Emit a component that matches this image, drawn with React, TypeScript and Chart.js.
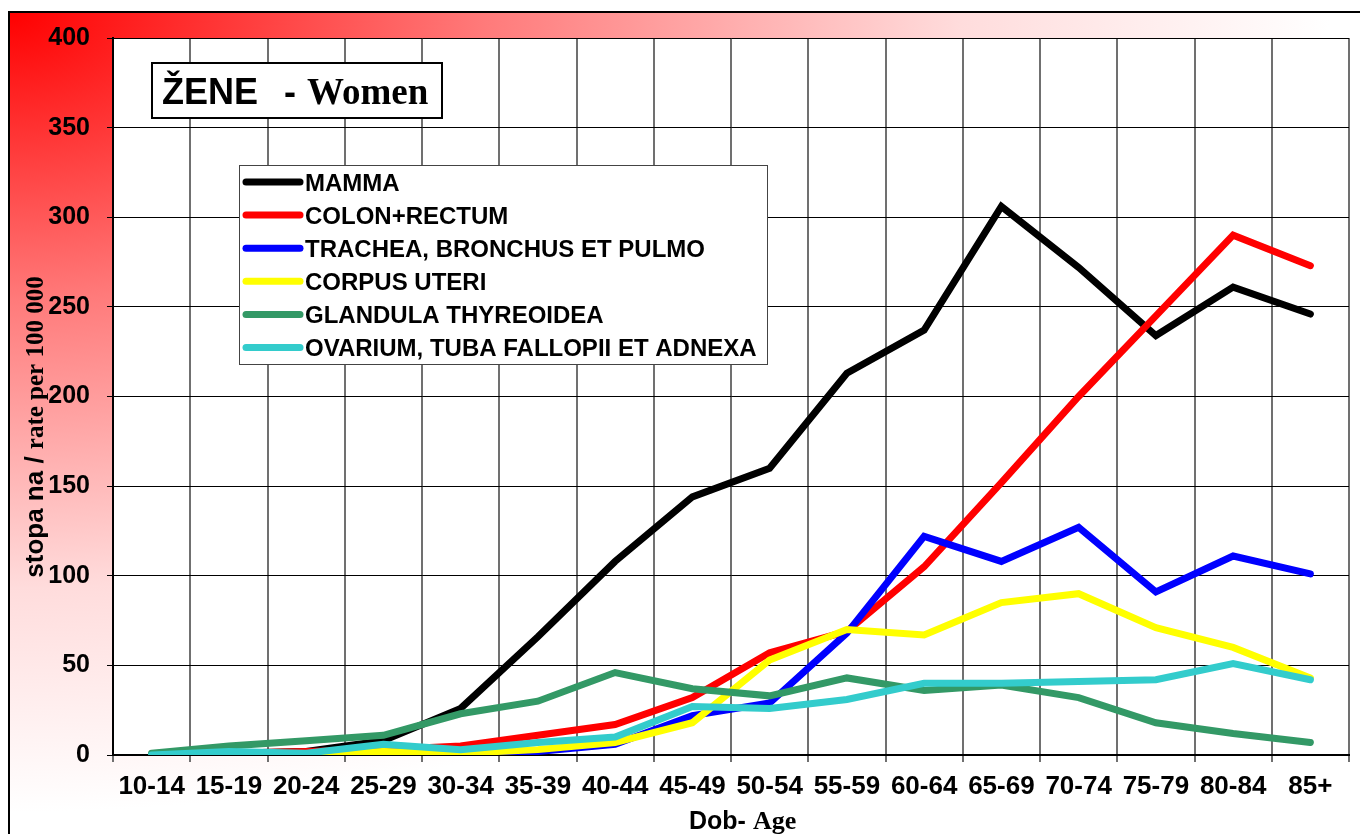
import React, { useEffect, useRef } from 'react';
import { Chart, registerables } from 'chart.js';

Chart.register(...registerables);

const ageGroups = ['10-14', '15-19', '20-24', '25-29', '30-34', '35-39', '40-44', '45-49', '50-54', '55-59', '60-64', '65-69', '70-74', '75-79', '80-84', '85+'];

const mamma = [0, 1, 2, 8, 26, 66, 108, 144, 160, 213, 237, 306, 272, 234, 261, 246];
const colonRectum = [0, 1, 2, 3, 5, 11, 17, 32, 57, 69, 105, 152, 200, 245, 290, 273];
const trachea = [0, 0, 0, 0.5, 1, 2, 6, 22, 29, 68, 122, 108, 127, 91, 111, 101];
const corpusUteri = [0, 0, 0.5, 2, 1, 3, 7, 18, 53, 70, 67, 85, 90, 71, 60, 43];
const thyreoidea = [1, 5, 8, 11, 23, 30, 46, 37, 33, 43, 36, 39, 32, 18, 12, 7];
const ovarium = [0, 2, 1, 6, 3, 7, 10, 27, 26, 31, 40, 40, 41, 42, 51, 42];

const seriesLabels = ['MAMMA', 'COLON+RECTUM', 'TRACHEA, BRONCHUS ET PULMO', 'CORPUS UTERI', 'GLANDULA THYREOIDEA', 'OVARIUM, TUBA FALLOPII ET ADNEXA'];
const seriesColors = ['#000000', '#ff0000', '#0000ff', '#ffff00', '#339966', '#33cccc'];
const seriesData = [mamma, colonRectum, trachea, corpusUteri, thyreoidea, ovarium];

const yTicks = [0, 50, 100, 150, 200, 250, 300, 350, 400];

const SANS = "'Liberation Sans', Arial, sans-serif";
const SERIF = "'Liberation Serif', 'Times New Roman', serif";

const decor = {
  id: 'decor',
  beforeDraw(chart: any) {
    const ctx = chart.ctx as CanvasRenderingContext2D;
    const width = chart.width;
    const height = chart.height;
    ctx.save();
    ctx.fillStyle = '#ffffff';
    ctx.fillRect(0, 0, width, height);
    // gradient panel
    ctx.save();
    ctx.beginPath();
    ctx.rect(9, 12, width, height);
    ctx.clip();
    ctx.translate(9, 12);
    const rx = 1320;
    const ry = 800;
    ctx.scale(1, ry / rx);
    const g = ctx.createRadialGradient(0, 0, 0, 0, 0, rx);
    g.addColorStop(0, '#ff0000');
    g.addColorStop(0.36, '#ff7a7a');
    g.addColorStop(0.72, '#ffdcdc');
    g.addColorStop(1, '#ffffff');
    ctx.fillStyle = g;
    ctx.fillRect(0, 0, width + 20, (height * rx) / ry + 20);
    ctx.restore();
    // outer border
    ctx.strokeStyle = '#000';
    ctx.lineWidth = 2;
    ctx.beginPath();
    ctx.moveTo(9, height + 5);
    ctx.lineTo(9, 12);
    ctx.lineTo(width + 5, 12);
    ctx.stroke();
    // plot area background
    const a = chart.chartArea;
    ctx.fillStyle = '#ffffff';
    ctx.fillRect(a.left, a.top, a.right - a.left, a.bottom - a.top);
    ctx.restore();
  },
  afterDraw(chart: any) {
    const ctx = chart.ctx as CanvasRenderingContext2D;
    ctx.save();
    // Title box
    ctx.fillStyle = '#ffffff';
    ctx.fillRect(152, 63, 290, 55);
    ctx.strokeStyle = '#000';
    ctx.lineWidth = 2;
    ctx.strokeRect(152, 63, 290, 55);
    ctx.fillStyle = '#000';
    ctx.textBaseline = 'alphabetic';
    ctx.textAlign = 'left';
    ctx.font = `bold 36px ${SANS}`;
    ctx.fillText('ŽENE', 162, 104);
    ctx.fillText('-', 284, 104);
    ctx.font = `bold 37px ${SERIF}`;
    ctx.fillText('Women', 307, 104);

    // Legend
    ctx.fillStyle = '#ffffff';
    ctx.fillRect(239, 165, 528, 199);
    ctx.strokeStyle = '#444';
    ctx.lineWidth = 1;
    ctx.strokeRect(239.5, 165.5, 528, 199);
    ctx.lineCap = 'round';
    for (let i = 0; i < seriesLabels.length; i++) {
      const y = 182 + i * 33.1;
      ctx.strokeStyle = seriesColors[i];
      ctx.lineWidth = 7;
      ctx.beginPath();
      ctx.moveTo(246, y);
      ctx.lineTo(300, y);
      ctx.stroke();
      ctx.fillStyle = '#000';
      ctx.font = `bold 24px ${SANS}`;
      ctx.fillText(seriesLabels[i], 305, y + 8.5);
    }

    // X axis title
    ctx.fillStyle = '#000';
    ctx.font = `bold 25px ${SANS}`;
    ctx.fillText('Dob-', 689, 829);
    ctx.font = `bold 26px ${SERIF}`;
    ctx.fillText('Age', 753, 829);

    // Y axis title
    ctx.save();
    ctx.translate(43, 427);
    ctx.rotate(-Math.PI / 2);
    const p1 = 'stopa na / ';
    const p2 = 'rate per 100 000';
    ctx.font = `bold 26px ${SANS}`;
    const w1 = ctx.measureText(p1).width;
    ctx.font = `bold 25px ${SERIF}`;
    const w2 = ctx.measureText(p2).width;
    const start = -(w1 + w2) / 2;
    ctx.font = `bold 26px ${SANS}`;
    ctx.fillText(p1, start, 0);
    ctx.font = `bold 25px ${SERIF}`;
    ctx.fillText(p2, start + w1, 0);
    ctx.restore();

    ctx.restore();
  },
};

export default function App() {
  const ref = useRef<HTMLCanvasElement>(null);
  useEffect(() => {
    const canvas = ref.current;
    if (!canvas) return;
    const n = seriesLabels.length;
    const chart = new Chart(canvas, {
      type: 'line',
      data: {
        labels: ageGroups,
        datasets: seriesData.map((d, i) => ({
          label: seriesLabels[i],
          data: d,
          borderColor: seriesColors[i],
          backgroundColor: seriesColors[i],
          borderWidth: 7,
          pointRadius: 0,
          tension: 0,
          fill: false,
          borderCapStyle: 'round' as const,
          borderJoinStyle: 'miter' as const,
          order: n - i,
        })),
      },
      options: {
        responsive: false,
        animation: false,
        devicePixelRatio: 1,
        layout: { padding: { left: 0, top: 38, right: 11, bottom: 0 } },
        plugins: {
          legend: { display: false },
          tooltip: { enabled: false },
          title: { display: false },
        },
        scales: {
          x: {
            type: 'category',
            offset: true,
            grid: { offset: true, color: '#707070', lineWidth: 2, tickLength: 7, drawTicks: true },
            border: { color: '#000', width: 2 },
            ticks: {
              color: '#000',
              font: { family: SANS, size: 26, weight: 'bold' },
              maxRotation: 0,
              minRotation: 0,
              autoSkip: false,
              padding: 9,
            },
            afterFit(s: any) {
              s.height = 79;
            },
          },
          y: {
            min: yTicks[0],
            max: yTicks[yTicks.length - 1],
            afterBuildTicks(s: any) {
              s.ticks = yTicks.map((v) => ({ value: v }));
            },
            ticks: {
              color: '#000',
              font: { family: SANS, size: 25, weight: 'bold' },
              padding: 17,
            },
            grid: { color: '#000', lineWidth: 1, tickLength: 6 },
            border: { color: '#000', width: 2 },
            afterFit(s: any) {
              s.width = 113;
            },
          },
        },
      },
      plugins: [decor],
    } as any);
    return () => chart.destroy();
  }, []);
  return (
    <div style={{ position: 'absolute', left: 0, top: 0, width: 1360, height: 834, overflow: 'hidden' }}>
      <canvas ref={ref} width={1360} height={834} style={{ display: 'block', width: 1360, height: 834 }} />
    </div>
  );
}
